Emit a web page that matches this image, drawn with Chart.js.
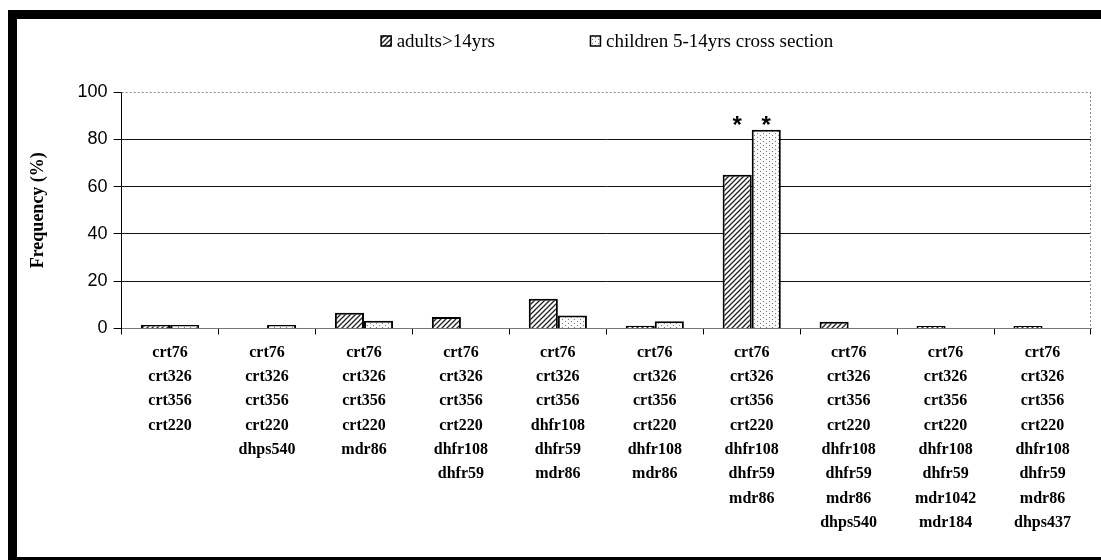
<!DOCTYPE html>
<html>
<head>
<meta charset="utf-8">
<script src="https://cdn.jsdelivr.net/npm/chart.js@4.4.1/dist/chart.umd.min.js"></script>
<style>
  html, body { margin: 0; padding: 0; background: #fff; }
  #wrap { position: relative; width: 1101px; height: 560px; }
  canvas { display: block; }
</style>
</head>
<body>
<div id="wrap"><canvas id="c" width="1101" height="560"></canvas></div>
<script>
// ---- data ----
const categories = [
  ["crt76", "crt326", "crt356", "crt220"],
  ["crt76", "crt326", "crt356", "crt220", "dhps540"],
  ["crt76", "crt326", "crt356", "crt220", "mdr86"],
  ["crt76", "crt326", "crt356", "crt220", "dhfr108", "dhfr59"],
  ["crt76", "crt326", "crt356", "dhfr108", "dhfr59", "mdr86"],
  ["crt76", "crt326", "crt356", "crt220", "dhfr108", "mdr86"],
  ["crt76", "crt326", "crt356", "crt220", "dhfr108", "dhfr59", "mdr86"],
  ["crt76", "crt326", "crt356", "crt220", "dhfr108", "dhfr59", "mdr86", "dhps540"],
  ["crt76", "crt326", "crt356", "crt220", "dhfr108", "dhfr59", "mdr1042", "mdr184"],
  ["crt76", "crt326", "crt356", "crt220", "dhfr108", "dhfr59", "mdr86", "dhps437"]
];
const seriesNames = ["adults>14yrs", "children 5-14yrs cross section"];
const adults   = [1.5, 0, 6.6, 4.8, 12.6, 1.1, 65, 2.8, 1, 1];
const children = [1.5, 1.5, 3.3, 0, 5.5, 3, 84, 0, 0, 0];
const yTicks = [0, 20, 40, 60, 80, 100];
const starCategory = 6;      // category marked with asterisks
const starLevel = 88;        // value level where asterisks sit
const yTitle = "Frequency (%)";

// ---- patterns ----
function hatchPattern() {
  const c = document.createElement('canvas');
  c.width = 5; c.height = 5;
  const g = c.getContext('2d');
  g.fillStyle = '#fff'; g.fillRect(0, 0, 5, 5);
  g.strokeStyle = '#222'; g.lineWidth = 1.3;
  g.beginPath();
  g.moveTo(-1, 6); g.lineTo(6, -1);
  g.moveTo(-1, 1); g.lineTo(1, -1);
  g.moveTo(4, 6); g.lineTo(6, 4);
  g.stroke();
  return g.createPattern(c, 'repeat');
}
function dotPattern() {
  const c = document.createElement('canvas');
  c.width = 6; c.height = 4;
  const g = c.getContext('2d');
  g.fillStyle = '#fafafa'; g.fillRect(0, 0, 6, 4);
  g.fillStyle = '#777';
  g.fillRect(1, 1, 1, 1);
  g.fillRect(4, 3, 1, 1);
  return g.createPattern(c, 'repeat');
}

// ---- plugins ----
const framePlugin = {
  id: 'frame',
  beforeDraw(chart) {
    const ctx = chart.ctx;
    ctx.save();
    ctx.fillStyle = '#fff';
    ctx.fillRect(0, 0, chart.width, chart.height);
    ctx.fillStyle = '#000';
    ctx.fillRect(8, 10, chart.width - 8, 9);   // top
    ctx.fillRect(8, 10, 9, chart.height - 10); // left
    ctx.fillRect(8, chart.height - 3, chart.width - 8, 3); // bottom
    ctx.restore();
  },
  afterDraw(chart) {
    const a = chart.chartArea, ctx = chart.ctx;
    ctx.save();
    ctx.strokeStyle = '#888'; ctx.lineWidth = 1;
    ctx.setLineDash([2, 2]);
    ctx.beginPath();
    ctx.moveTo(a.left, a.top + 0.5); ctx.lineTo(a.right, a.top + 0.5);
    ctx.moveTo(a.right - 0.5, a.top); ctx.lineTo(a.right - 0.5, a.bottom);
    ctx.stroke();
    ctx.restore();
  }
};
const legendPlugin = {
  id: 'customLegend',
  afterDraw(chart) {
    const ctx = chart.ctx;
    const box = 11, gapText = 5, gapItem = 95, cy = 41;
    ctx.save();
    ctx.font = '19px "Liberation Serif", "Times New Roman", serif';
    ctx.textBaseline = 'middle';
    ctx.fillStyle = '#000';
    const items = chart.data.datasets.map(ds => ({ ds, w: box + gapText + ctx.measureText(ds.label).width }));
    const total = items.reduce((s, it) => s + it.w, 0) + gapItem * (items.length - 1);
    let x = 607 - total / 2;
    items.forEach(it => {
      ctx.fillStyle = it.ds.backgroundColor;
      ctx.fillRect(x, cy - box / 2, box, box);
      ctx.strokeStyle = '#000'; ctx.lineWidth = 1.5;
      ctx.strokeRect(x + 0.5, cy - box / 2 + 0.5, box - 1, box - 1);
      ctx.fillStyle = '#000';
      ctx.fillText(it.ds.label, x + box + gapText, cy + 1);
      x += it.w + gapItem;
    });
    ctx.restore();
  }
};
const starPlugin = {
  id: 'stars',
  afterDatasetsDraw(chart) {
    const ctx = chart.ctx;
    const y = chart.scales.y.getPixelForValue(starLevel);
    ctx.save();
    ctx.fillStyle = '#000';
    ctx.font = 'bold 24px "Liberation Sans", Arial, sans-serif';
    ctx.textAlign = 'center';
    ctx.textBaseline = 'middle';
    chart.data.datasets.forEach((ds, i) => {
      const el = chart.getDatasetMeta(i).data[starCategory];
      if (el) ctx.fillText('*', el.x, y + 6);
    });
    ctx.restore();
  }
};

new Chart(document.getElementById('c'), {
  type: 'bar',
  data: {
    labels: categories,
    datasets: [
      { label: seriesNames[0], data: adults, backgroundColor: hatchPattern(), borderColor: '#000', borderWidth: 2 },
      { label: seriesNames[1], data: children, backgroundColor: dotPattern(), borderColor: '#000', borderWidth: 2 }
    ]
  },
  options: {
    responsive: false,
    animation: false,
    events: [],
    layout: { padding: { left: 28, right: 10, top: 92, bottom: 19 } },
    datasets: { bar: { categoryPercentage: 0.6, barPercentage: 1.0 } },
    plugins: {
      legend: { display: false },
      tooltip: { enabled: false }
    },
    scales: {
      x: {
        grid: { display: true, offset: true, drawOnChartArea: false, drawTicks: true, tickLength: 6, tickColor: '#000', tickWidth: 1 },
        border: { display: true, color: '#777', width: 1 },
        ticks: {
          color: '#000', maxRotation: 0, autoSkip: false, padding: 6,
          font: { family: '"Liberation Serif", "Times New Roman", serif', size: 16, weight: 'bold', lineHeight: 1.52 }
        }
      },
      y: {
        min: 0, max: 100,
        afterBuildTicks(scale) { scale.ticks = yTicks.map(v => ({ value: v })); },
        grid: {
          color: ctx => (ctx.tick && (ctx.tick.value === 100 || ctx.tick.value === 0)) ? 'rgba(0,0,0,0)' : '#111',
          lineWidth: 1, drawTicks: true, tickLength: 8, tickColor: '#000'
        },
        border: { display: true, color: '#000', width: 1 },
        ticks: {
          color: '#000', padding: 6,
          font: { family: '"Liberation Sans", Arial, sans-serif', size: 18 }
        },
        title: {
          display: true, text: yTitle, color: '#000', padding: { top: 0, bottom: 22 },
          font: { family: '"Liberation Serif", "Times New Roman", serif', size: 18, weight: 'bold' }
        }
      }
    }
  },
  plugins: [framePlugin, legendPlugin, starPlugin]
});
</script>
</body>
</html>
